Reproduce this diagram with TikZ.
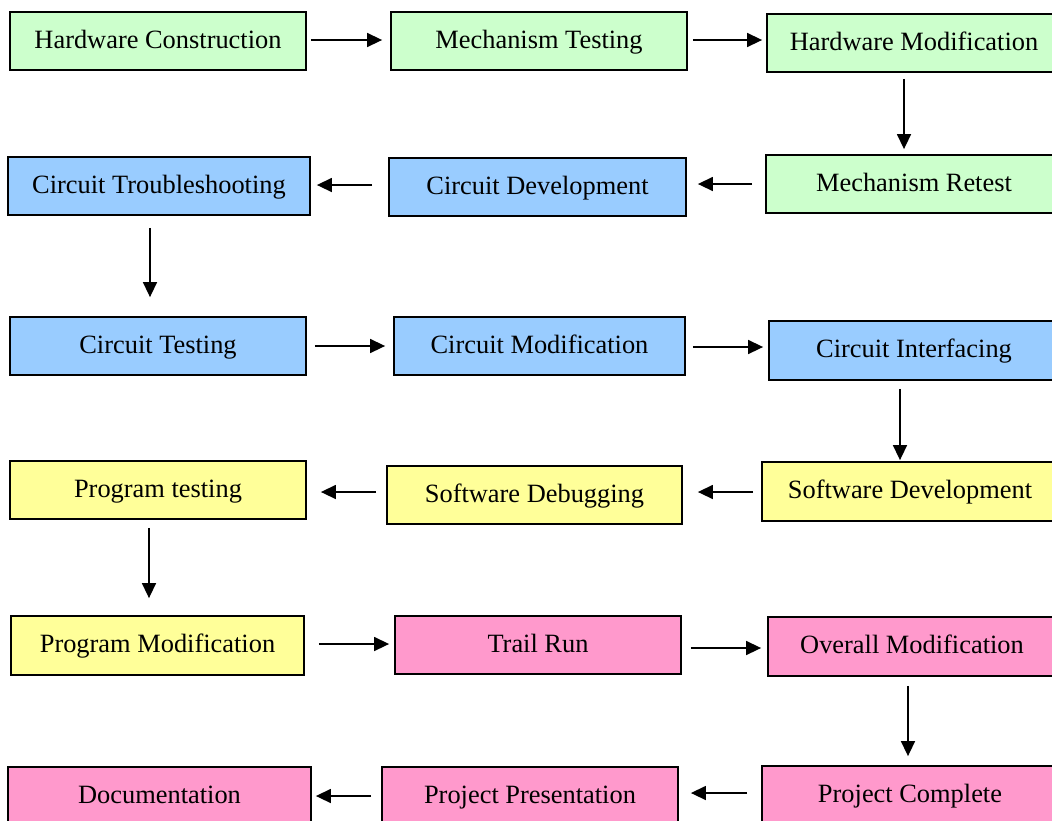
\documentclass[tikz,border=0pt]{standalone}
\usepackage{fontspec}
\setmainfont{Liberation Serif}
\usetikzlibrary{arrows.meta}
\definecolor{hwgreen}{HTML}{CCFFCC}
\definecolor{cirblue}{HTML}{99CCFF}
\definecolor{swyellow}{HTML}{FFFF99}
\definecolor{prpink}{HTML}{FF99CC}
\tikzset{
  box/.style={draw=black, line width=1.8pt, rectangle, inner sep=0pt,
    minimum height=58pt, text height=18pt, text depth=4pt,
    font=\fontsize{26.4}{30}\selectfont},
  hw/.style={box, fill=hwgreen},
  cir/.style={box, fill=cirblue},
  sw/.style={box, fill=swyellow},
  pr/.style={box, fill=prpink},
  arr/.style={line width=1.5pt, -{Triangle[length=15pt,width=14pt]}}
}
\begin{document}
\begin{tikzpicture}[x=1pt,y=-1pt]
\useasboundingbox (0,0) rectangle (1052,820);

% Row 1: hardware
\node[hw, minimum width=296pt] (hc)  at (158,41)   {Hardware Construction};
\node[hw, minimum width=296pt] (mt)  at (539,41)   {Mechanism Testing};
\node[hw, minimum width=294pt] (hm)  at (914,43)   {Hardware Modification};
% Row 2
\node[cir, minimum width=302pt] (ctr) at (159,186) {Circuit Troubleshooting};
\node[cir, minimum width=297pt] (cd)  at (537.5,187) {Circuit Development};
\node[hw, minimum width=296pt]  (mr)  at (914,184) {Mechanism Retest};
% Row 3
\node[cir, minimum width=296pt] (cte) at (158,346) {Circuit Testing};
\node[cir, minimum width=291pt] (cm)  at (539.5,346) {Circuit Modification};
\node[cir, minimum width=290pt, minimum height=59pt] (ci) at (914,350.5) {Circuit Interfacing};
% Row 4
\node[sw, minimum width=296pt] (pt)  at (158,490)   {Program testing};
\node[sw, minimum width=295pt] (sdb) at (534.5,495) {Software Debugging};
\node[sw, minimum width=296pt, minimum height=59pt] (sdv) at (910,491.5) {Software Development};
% Row 5
\node[sw, minimum width=293pt, minimum height=59pt] (pm) at (157.5,645.5) {Program Modification};
\node[pr, minimum width=286pt] (tr) at (538,645) {Trail Run};
\node[pr, minimum width=288pt, minimum height=59pt] (om) at (912,646.5) {Overall Modification};
% Row 6
\node[pr, minimum width=303pt, minimum height=59pt] (doc) at (159.5,796.5) {Documentation};
\node[pr, minimum width=296pt, minimum height=59pt] (pp)  at (530,796.5)   {Project Presentation};
\node[pr, minimum width=296pt, minimum height=59pt] (pc)  at (910,795.5)   {Project Complete};

% Connectors
\draw[arr, shorten <=4pt, shorten >=8pt]  (hc.east |- 0,40) -- (mt.west |- 0,40);
\draw[arr, shorten <=5pt, shorten >=4pt]  (mt.east |- 0,40) -- (hm.west |- 0,40);
\draw[arr, shorten <=6pt, shorten >=5pt]  (hm.south -| 904,0) -- (mr.north -| 904,0);
\draw[arr, shorten <=13pt, shorten >=11pt] (mr.west |- 0,184) -- (cd.east |- 0,184);
\draw[arr, shorten <=16pt, shorten >=6pt] (cd.west |- 0,185) -- (ctr.east |- 0,185);
\draw[arr, shorten <=12pt, shorten >=19pt] (ctr.south -| 150,0) -- (cte.north -| 150,0);
\draw[arr, shorten <=8pt, shorten >=8pt]  (cte.east |- 0,346) -- (cm.west |- 0,346);
\draw[arr, shorten <=7pt, shorten >=5pt]  (cm.east |- 0,347) -- (ci.west |- 0,347);
\draw[arr, shorten <=8pt, shorten >=1pt]  (ci.south -| 900,0) -- (sdv.north -| 900,0);
\draw[arr, shorten <=8pt, shorten >=15pt] (sdv.west |- 0,492) -- (sdb.east |- 0,492);
\draw[arr, shorten <=10pt, shorten >=14pt] (sdb.west |- 0,492) -- (pt.east |- 0,492);
\draw[arr, shorten <=8pt, shorten >=17pt] (pt.south -| 149,0) -- (pm.north -| 149,0);
\draw[arr, shorten <=14pt, shorten >=5pt] (pm.east |- 0,644) -- (tr.west |- 0,644);
\draw[arr, shorten <=9pt, shorten >=6pt]  (tr.east |- 0,648) -- (om.west |- 0,648);
\draw[arr, shorten <=9pt, shorten >=9pt]  (om.south -| 908,0) -- (pc.north -| 908,0);
\draw[arr, shorten <=14pt, shorten >=12pt] (pc.west |- 0,793) -- (pp.east |- 0,793);
\draw[arr, shorten <=10pt, shorten >=4pt] (pp.west |- 0,796) -- (doc.east |- 0,796);
\end{tikzpicture}
\end{document}
